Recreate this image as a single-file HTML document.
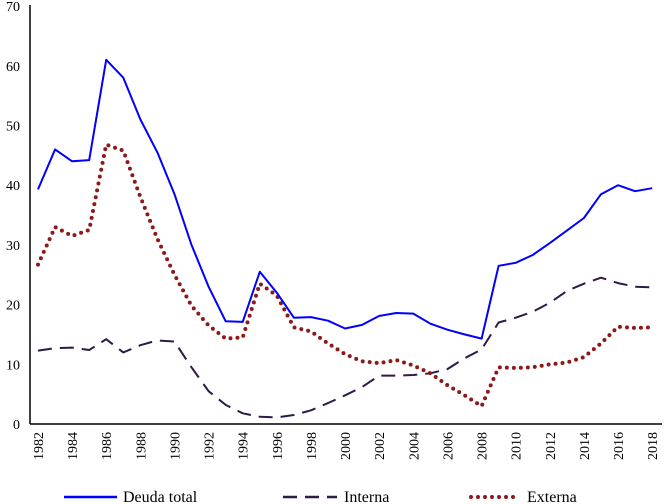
<!DOCTYPE html>
<html><head><meta charset="utf-8"><style>
html,body{margin:0;padding:0;background:#fff;}
svg{display:block;font-family:"Liberation Serif",serif;}
</style></head><body>
<svg id="chart" width="664" height="504">
<g id="axes"></g><g id="series"></g>
<g>
<line x1="64" y1="497" x2="117" y2="497" stroke="#0000ff" stroke-width="2.5"/>
<text x="123" y="502" font-size="16" fill="#000">Deuda total</text>
<line x1="283" y1="497" x2="337" y2="497" stroke="#2d1a45" stroke-width="2.5" stroke-dasharray="14 8"/>
<text x="344" y="502" font-size="16" fill="#000">Interna</text>
<line x1="471" y1="497" x2="520" y2="497" stroke="#8b1a1a" stroke-width="4" stroke-dasharray="0 7" stroke-linecap="round"/>
<text x="527" y="502" font-size="16" fill="#000">Externa</text>
</g>
</svg>
<script>
const years=[1982,1983,1984,1985,1986,1987,1988,1989,1990,1991,1992,1993,1994,1995,1996,1997,1998,1999,2000,2001,2002,2003,2004,2005,2006,2007,2008,2009,2010,2011,2012,2013,2014,2015,2016,2017,2018];
const deudaTotal=[39.3,46,44,44.2,61,58,51,45.5,38.5,30,23,17.2,17.1,25.5,22,17.8,17.9,17.3,16,16.6,18.1,18.6,18.5,16.8,15.8,15,14.3,26.5,27,28.3,30.3,32.4,34.5,38.5,40,39,39.5];
const interna=[12.3,12.7,12.8,12.4,14.2,12,13.2,14,13.8,9.5,5.5,3.2,1.8,1.2,1.1,1.5,2.3,3.5,4.8,6.2,8.1,8.1,8.2,8.5,9.2,11,12.5,17,17.8,18.8,20.3,22.3,23.5,24.5,23.6,23,22.9];
const externa=[26.7,33,31.5,32.5,46.8,45.8,38,31,25,19.8,16.5,14.3,14.5,23.5,21.5,16.2,15.5,13.5,11.7,10.5,10.2,10.7,9.8,8.5,6.5,4.8,3.0,9.5,9.4,9.5,10,10.3,11.2,13.5,16.3,16.1,16.2];
const yTicks=[0,10,20,30,40,50,60,70];
const xTickYears=[1982,1984,1986,1988,1990,1992,1994,1996,1998,2000,2002,2004,2006,2008,2010,2012,2014,2016,2018];
const NS="http://www.w3.org/2000/svg";
function xs(y){return 38+(y-1982)*17.06;}
function ys(v){return 424-v*5.97;}
const axes=document.getElementById('axes'),ser=document.getElementById('series');
function mk(t,a,p){const e=document.createElementNS(NS,t);for(const k in a)e.setAttribute(k,a[k]);p.appendChild(e);return e;}
const ya=mk('line',{x1:30,y1:5,x2:30,y2:424,stroke:'#000','stroke-width':1.5},axes);


const xa=mk('line',{x1:30,y1:424,x2:662,y2:424,stroke:'#000','stroke-width':1.5},axes);


yTicks.forEach(v=>{const t=mk('text',{x:20,y:ys(v)+5,'text-anchor':'end','font-size':14,fill:'#000'},axes);t.textContent=v;

});
xTickYears.forEach(y=>{const x=xs(y);const t=mk('text',{x:0,y:0,'text-anchor':'end','font-size':14,fill:'#000',transform:`translate(${x+5},432) rotate(-90)`},axes);t.textContent=y;

});
function line(vals,attrs,name){const pts=vals.map((v,i)=>xs(years[i]).toFixed(1)+','+ys(v).toFixed(1)).join(' ');
const p=mk('polyline',Object.assign({points:pts,fill:'none','stroke-linejoin':'round'},attrs),ser);

}
line(interna,{stroke:'#2d1a45','stroke-width':2,'stroke-dasharray':'14 8'},'series-interna');
line(externa,{stroke:'#8b1a1a','stroke-width':4,'stroke-dasharray':'0 7','stroke-linecap':'round'},'series-externa');
line(deudaTotal,{stroke:'#0000ff','stroke-width':2},'series-deuda-total');
</script>
</body></html>
